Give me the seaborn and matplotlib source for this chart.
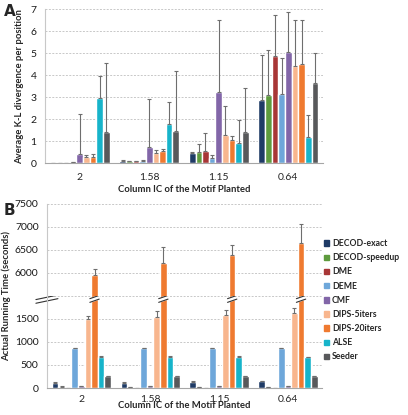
import matplotlib
matplotlib.use("Agg")
import matplotlib.pyplot as plt
import matplotlib.transforms as mtransforms
import seaborn as sns
import pandas as pd

# categories / methods
ic_levels = ["2", "1.58", "1.15", "0.64"]
methods = ["DECOD-exact", "DECOD-speedup", "DME", "DEME", "CMF",
           "DIPS-5iters", "DIPS-20iters", "ALSE", "Seeder"]
colors = ["#1F3B66", "#5E9B3E", "#A83636", "#6EA7DA", "#8266A8",
          "#F8B68E", "#EF7A30", "#17B4CA", "#58595B"]

# panel A: average K-L divergence (mean, upper error)
kl_exact = [0.0, 0.11, 0.44, 2.87]
kl_speedup = [0.0, 0.08, 0.50, 3.08]
kl_dme = [0.0, 0.08, 0.56, 4.87]
kl_deme = [0.03, 0.10, 0.23, 3.14]
kl_cmf = [0.40, 0.73, 3.23, 5.03]
kl_dips5 = [0.26, 0.48, 1.29, 4.42]
kl_dips20 = [0.27, 0.54, 1.04, 4.51]
kl_alse = [2.97, 1.76, 0.92, 1.18]
kl_seeder = [1.41, 1.45, 1.42, 3.63]

kl_err_exact = [0.0, 0.02, 0.06, 2.06]
kl_err_speedup = [0.0, 0.01, 0.35, 2.08]
kl_err_dme = [0.0, 0.01, 0.82, 1.86]
kl_err_deme = [0.01, 0.05, 0.14, 1.63]
kl_err_cmf = [1.84, 2.19, 3.27, 1.82]
kl_err_dips5 = [0.13, 0.11, 1.31, 2.07]
kl_err_dips20 = [0.13, 0.10, 0.18, 1.98]
kl_err_alse = [1.00, 1.01, 1.02, 1.00]
kl_err_seeder = [3.14, 2.75, 1.98, 1.39]

# panel B: running time in seconds (mean, upper error)
rt_exact = [116, 116, 138, 145]
rt_speedup = [30, 18, 18, 15]
rt_dme = [3, 3, 3, 3]
rt_deme = [868, 865, 865, 868]
rt_cmf = [36, 36, 42, 38]
rt_dips5 = [1493, 1545, 1580, 1630]
rt_dips20 = [5955, 6210, 6390, 6650]
rt_alse = [681, 681, 681, 676]
rt_seeder = [254, 254, 254, 254]

rt_err_exact = [10, 10, 10, 10]
rt_err_speedup = [12, 5, 5, 5]
rt_err_dme = [0, 0, 0, 0]
rt_err_deme = [8, 5, 5, 5]
rt_err_cmf = [5, 5, 5, 5]
rt_err_dips5 = [80, 130, 116, 110]
rt_err_dips20 = [137, 355, 225, 415]
rt_err_alse = [5, 5, 5, 5]
rt_err_seeder = [10, 10, 10, 10]

kl_means = [kl_exact, kl_speedup, kl_dme, kl_deme, kl_cmf, kl_dips5, kl_dips20, kl_alse, kl_seeder]
kl_errs = [kl_err_exact, kl_err_speedup, kl_err_dme, kl_err_deme, kl_err_cmf,
           kl_err_dips5, kl_err_dips20, kl_err_alse, kl_err_seeder]
rt_means = [rt_exact, rt_speedup, rt_dme, rt_deme, rt_cmf, rt_dips5, rt_dips20, rt_alse, rt_seeder]
rt_errs = [rt_err_exact, rt_err_speedup, rt_err_dme, rt_err_deme, rt_err_cmf,
           rt_err_dips5, rt_err_dips20, rt_err_alse, rt_err_seeder]


def long_df(means, errs):
    rows = []
    for m, vals, ers in zip(methods, means, errs):
        for c, v, e in zip(ic_levels, vals, ers):
            rows.append({"ic": c, "method": m, "value": v, "err": e})
    return pd.DataFrame(rows)


df_kl = long_df(kl_means, kl_errs)
df_rt = long_df(rt_means, rt_errs)

sns.set_style("white")
plt.rcParams["font.family"] = ["Lato", "DejaVu Sans"]
palette = dict(zip(methods, colors))

fig = plt.figure(figsize=(4.08, 4.15), dpi=100)
axA = fig.add_axes([0.110, 0.607, 0.682, 0.371])
axB_lo = fig.add_axes([0.115, 0.065, 0.675, 0.222])
axB_hi = fig.add_axes([0.115, 0.287, 0.675, 0.222])

tick_fs = 7.5
lab_fs = 6.8


def draw_bars(ax, df):
    sns.barplot(data=df, x="ic", y="value", hue="method", order=ic_levels,
                hue_order=methods, palette=palette, width=0.86, gap=0,
                errorbar=None, ax=ax, legend=False, saturation=1)
    for cont, m in zip(ax.containers, methods):
        sub = df[df["method"] == m].set_index("ic").loc[ic_levels]
        xs = [b.get_x() + b.get_width() / 2 for b in cont]
        ax.errorbar(xs, sub["value"], yerr=[[0] * len(xs), sub["err"]],
                    fmt="none", ecolor="#6e6e6e", elinewidth=0.8,
                    capsize=1.3, capthick=0.8)


def style_axis(ax):
    ax.set_xlim(-0.5, 3.5)
    ax.yaxis.grid(True, linestyle=(0, (2, 1.5)), color="#c8c8c8", linewidth=0.7)
    ax.set_axisbelow(True)
    for s in ["top", "right"]:
        ax.spines[s].set_visible(False)
    ax.spines["left"].set_color("#c8c8c8")
    ax.spines["bottom"].set_color("#a6a6a6")
    ax.tick_params(axis="y", length=0, labelsize=tick_fs, pad=6, colors="#1a1a1a")
    ax.set_xlabel("")
    ax.set_ylabel("")


# ---- panel A
draw_bars(axA, df_kl)
style_axis(axA)
axA.set_ylim(0, 7)
axA.set_yticks(range(0, 8))
axA.set_xticks(range(4))
axA.set_xticklabels(ic_levels)
axA.set_xticks([-0.5, 0.5, 1.5, 2.5, 3.5], minor=True)
axA.tick_params(axis="x", which="major", length=0, labelsize=tick_fs, pad=7)
axA.tick_params(axis="x", which="minor", length=4, color="#a6a6a6", width=0.8)
axA.set_xlabel("Column IC of the Motif Planted", fontsize=lab_fs, fontweight="bold", labelpad=2)
axA.set_ylabel("Average K-L divergence per position", fontsize=lab_fs, fontweight="bold", labelpad=5)

# ---- panel B (broken axis)
draw_bars(axB_lo, df_rt)
draw_bars(axB_hi, df_rt)
for ax in (axB_lo, axB_hi):
    style_axis(ax)
axB_lo.set_ylim(0, 2000)
axB_lo.set_yticks([0, 500, 1000, 1500, 2000])
axB_lo.set_yticklabels(["0", "500", "1000", "1500", ""])
axB_hi.set_ylim(5500, 7500)
axB_hi.set_yticks([6000, 6500, 7000, 7500])
axB_hi.spines["bottom"].set_visible(False)
axB_hi.set_xticks([])
axB_hi.tick_params(axis="x", which="both", length=0)
axB_lo.set_xticks(range(4))
axB_lo.set_xticklabels(ic_levels)
axB_lo.set_xticks([-0.5, 0.5, 1.5, 2.5, 3.5], minor=True)
axB_lo.tick_params(axis="x", which="major", length=0, labelsize=tick_fs, pad=5)
axB_lo.tick_params(axis="x", which="minor", length=4, color="#a6a6a6", width=0.8)
axB_lo.set_xlabel("Column IC of the Motif Planted", fontsize=lab_fs, fontweight="bold", labelpad=-2)
axB_lo.set_ylabel("Actual Running Time (seconds)", fontsize=lab_fs, fontweight="bold", labelpad=4)
axB_lo.yaxis.set_label_coords(-0.13, 1.0)

# break marks on the y axis and on the DIPS-20iters bars
trans = mtransforms.blended_transform_factory(axB_lo.transAxes, axB_lo.transData)
for dy in (-40, 40):
    axB_lo.plot([-0.04, 0.04], [1930 + dy - 50, 1930 + dy + 50], color="#333333",
                lw=0.8, transform=trans, clip_on=False)
for b in axB_lo.containers[methods.index("DIPS-20iters")]:
    x0, w = b.get_x() - 0.02, b.get_width() + 0.04
    axB_lo.fill([x0, x0 + w, x0 + w, x0], [1860, 1930, 2010, 1940],
                color="white", zorder=5, clip_on=False)
    for yy in (1860, 1940):
        axB_lo.plot([x0, x0 + w], [yy, yy + 70], color="#333333", lw=0.8,
                    zorder=6, clip_on=False)

# legend
handles = [plt.Rectangle((0, 0), 1, 1, color=c) for c in colors]
fig.legend(handles, methods, loc="upper left", bbox_to_anchor=(0.785, 0.432),
           frameon=False, handlelength=0.6, handleheight=0.6,
           handletextpad=0.35, labelspacing=0.6, borderaxespad=0,
           prop={"weight": "bold", "size": 6.2})

fig.text(0.01, 0.99, "A", fontsize=11, fontweight="bold", va="top", family="DejaVu Sans")
fig.text(0.01, 0.51, "B", fontsize=11, fontweight="bold", va="top", family="DejaVu Sans")

fig.savefig("out.png", dpi=100)
